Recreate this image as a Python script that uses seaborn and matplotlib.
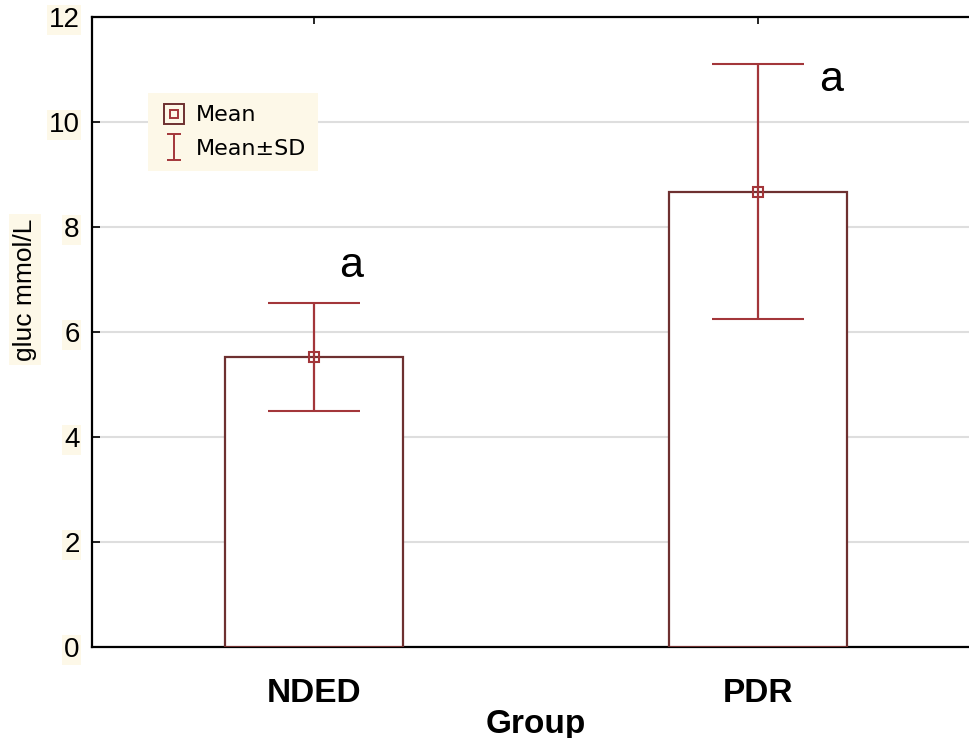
import numpy as np
import matplotlib
matplotlib.use("Agg")
import matplotlib.pyplot as plt
from matplotlib.lines import Line2D
from matplotlib.path import Path
import seaborn as sns

groups = ["NDED", "PDR"]
means = [5.52, 8.67]
sds = [1.03, 2.43]
letters = ["a", "a"]
yticks = [0, 2, 4, 6, 8, 10, 12]

bar_edge = "#6e3030"
err_col = "#a3363a"
beige = "#fdf8e8"

sns.set_style("white")
plt.rcParams['font.family'] = ['Liberation Sans', 'DejaVu Sans']
plt.rcParams['text.color'] = 'black'
plt.rcParams['axes.labelcolor'] = 'black'
plt.rcParams['xtick.color'] = 'black'
plt.rcParams['ytick.color'] = 'black'

fig = plt.figure(figsize=(9.69, 7.38), dpi=100)
ax = fig.add_axes([0.095, 0.123, 0.916, 0.854])

sns.barplot(x=groups, y=means, color="white", edgecolor=bar_edge, linewidth=1.6,
            width=0.4, saturation=1, errorbar=None, ax=ax, zorder=3)

xpos = np.arange(len(groups))
ax.errorbar(xpos, means, yerr=sds, fmt="s", color=err_col, ecolor=err_col,
            mfc="none", mec=err_col, ms=7, mew=1.5, elinewidth=1.6,
            capsize=33, capthick=1.6, zorder=4)

# significance letters
ax.text(0.083, 7.26, letters[0], fontsize=31, ha="center", va="center", zorder=5)
ax.text(1.166, 10.8, letters[1], fontsize=31, ha="center", va="center", zorder=5)

ax.set_xlim(-0.5, 1.5)
ax.set_ylim(0, 12)
ax.set_yticks(yticks)
ax.yaxis.grid(True, color="#dedede", linewidth=1.5, zorder=0)
ax.set_axisbelow(True)

for side in ["left", "top", "bottom"]:
    ax.spines[side].set_color("black")
    ax.spines[side].set_linewidth(1.6)
ax.spines["right"].set_visible(False)

ax.tick_params(axis="y", direction="in", length=6, width=1.2, pad=9, labelsize=20, left=True)
ax.tick_params(axis="x", direction="in", length=5, width=1.2, pad=22, top=True, bottom=True)
for lbl in ax.get_yticklabels():
    lbl.set_bbox(dict(facecolor=beige, edgecolor="none", pad=1.5))
for lbl in ax.get_xticklabels():
    lbl.set_fontsize(24)
    lbl.set_fontweight("bold")

ax.set_xlabel("Group", fontsize=24, fontweight="bold", labelpad=0)
ax.set_ylabel("gluc mmol/L", fontsize=19, labelpad=0,
              bbox=dict(facecolor=beige, edgecolor="none", pad=3))
ax.yaxis.set_label_coords(-0.062, 0.567)

# legend
ibar = Path([(-0.5, 1), (0.5, 1), (0, 1), (0, -1), (-0.5, -1), (0.5, -1)],
            [Path.MOVETO, Path.LINETO, Path.MOVETO, Path.LINETO, Path.MOVETO, Path.LINETO])
h_mean_out = Line2D([], [], ls="none", marker="s", ms=15, mfc="none", mec=bar_edge, mew=1.4)
h_mean_in = Line2D([], [], ls="none", marker="s", ms=6, mfc="none", mec=err_col, mew=1.4)
h_sd = Line2D([], [], ls="none", marker=ibar, ms=19, mfc="none", mec=err_col, mew=1.4)
leg = ax.legend([(h_mean_out, h_mean_in), h_sd], ["Mean", "Mean±SD"],
                loc="upper left", bbox_to_anchor=(0.063, 0.879), borderaxespad=0,
                frameon=True, fancybox=False, facecolor=beige, edgecolor="none",
                framealpha=1, handlelength=1.2, handletextpad=0.4, labelspacing=0.6,
                borderpad=0.55, prop={"family": "DejaVu Sans", "size": 16})
leg.set_zorder(6)

plt.savefig("out.png", dpi=100)
